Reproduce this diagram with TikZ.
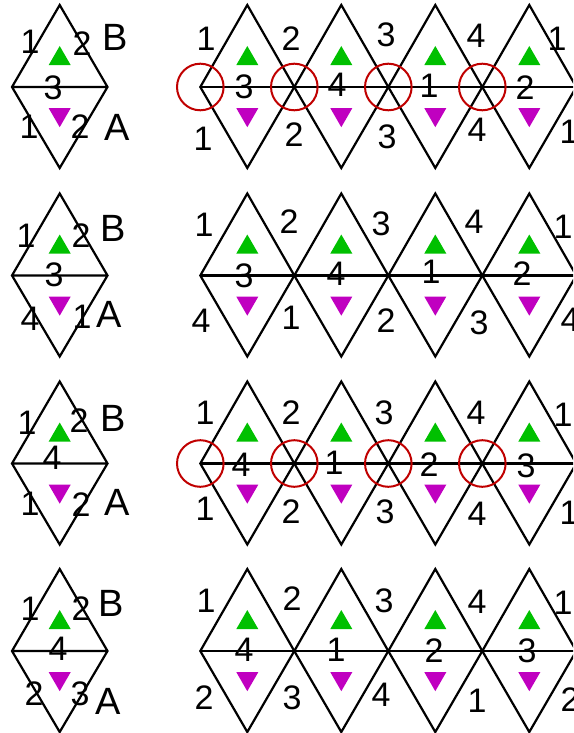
\documentclass[tikz,border=0pt]{standalone}
\usepackage{fontspec}
\setmainfont{Liberation Sans}
\usetikzlibrary{shapes.geometric}
\definecolor{tgreen}{RGB}{0,192,0}
\definecolor{tmag}{RGB}{192,0,192}
\definecolor{tred}{RGB}{192,0,0}
\tikzset{
  lineblk/.style={line width=2.2pt, line join=miter},
  num/.style={inner sep=0pt, font=\fontsize{34}{34}\selectfont},
  letter/.style={inner sep=0pt, font=\fontsize{38}{38}\selectfont},
  uptri/.style={regular polygon, regular polygon sides=3, fill=tgreen, inner sep=0pt, minimum size=25.4pt},
  downtri/.style={uptri, fill=tmag, shape border rotate=180},
  ring/.style={circle, draw=tred, line width=2pt, minimum size=46.6pt, inner sep=0pt},
}
\begin{document}
\begin{tikzpicture}[x=1pt, y=-1pt]
\useasboundingbox (0,0) rectangle (573,733);
\clip (0,0) rectangle (573,733);
\foreach \Y/\r in {87/1, 275.5/2, 463.5/3, 651/4} {
  % small diamond
  \coordinate (sL\r) at (12,\Y);
  \coordinate (sR\r) at (107.5,\Y);
  \coordinate (sT\r) at (59.7,\Y-82);
  \coordinate (sB\r) at (59.7,\Y+81);
  \draw[lineblk] (sL\r) -- (sT\r) -- (sR\r) -- (sB\r) -- cycle (sL\r) -- (sR\r);
  \node[uptri] (gs\r) at (59.7,\Y-28.3) {};
  \node[downtri] (ms\r) at (59.7,\Y+27.5) {};
  % strip
  \foreach \k in {0,...,4} \coordinate (v\r-\k) at ({200.3+94*\k},\Y);
  \foreach \k in {0,...,3} {
    \coordinate (t\r-\k) at ({247.3+94*\k},\Y-82);
    \coordinate (b\r-\k) at ({247.3+94*\k},\Y+81);
  }
  \foreach \k [evaluate=\k as \n using int(\k+1)] in {0,...,3}
    \draw[lineblk] (v\r-\k) -- (t\r-\k) -- (v\r-\n) -- (b\r-\k) -- cycle;
  \draw[lineblk] (v\r-0) -- (v\r-4);
  \foreach \k in {0,...,3} {
    \node[uptri] (g\r-\k) at ({247.3+94*\k},\Y-28.3) {};
    \node[downtri] (m\r-\k) at ({247.3+94*\k},\Y+27.5) {};
  }
}
\foreach \r in {1,3}
  \foreach \k in {0,...,3}
    \node[ring] (c\r-\k) at (v\r-\k) {};
% small diamond labels
\foreach \x/\y/\t [count=\i] in {
  30/42/1, 82/44/2, 53/88/3, 29/127/1, 80/127/2,
  26/236/1, 81/236/2, 54/275/3, 30/319/4, 82/317/1,
  27/423/1, 79/421/2, 52/458/4, 30/504/1, 81/505/2,
  30/609/1, 81/609/2, 58/649/4, 34/694/2, 80/694/3}
  \node[num] (sn\i) at (\x,\y) {\t};
\foreach \x/\y/\t [count=\i] in {
  115/37/B, 117/127/A, 113/228/B, 109/314/A,
  113/418/B, 117/502/A, 111/603/B, 108/701/A}
  \node[letter] (sl\i) at (\x,\y) {\t};
% strip labels
\foreach \x/\y/\t [count=\i] in {
  206/39/1, 291/39/2, 386/35/3, 476/36/4, 557/39/1,
  244/87/3, 337/85/4, 429/86/1, 525/88/2,
  203/139/1, 294/135/2, 387/137/3, 477/130/4, 569/132/1,
  204/225/1, 289/222/2, 381/224/3, 474/222/4, 563/227/1,
  244/276/3, 336/274/4, 431/272/1, 522/274/2,
  201/321/4, 291/318/1, 386/321/2, 479/323/3, 570/320/4,
  205/413/1, 291/413/2, 384/413/3, 476/413/4, 563/415/1,
  241/465/4, 334/463/1, 429/465/2, 526/466/3,
  205/509/1, 291/512/2, 385/512/3, 477/514/4, 569/513/1,
  206/601/1, 292/599/2, 384/601/3, 477/602/4, 563/603/1,
  244/650/4, 336/650/1, 434/651/2, 527/651/3,
  204/698/2, 292/698/3, 381/695/4, 477/701/1, 570/700/2}
  \node[num] (tn\i) at (\x,\y) {\t};
\end{tikzpicture}
\end{document}
